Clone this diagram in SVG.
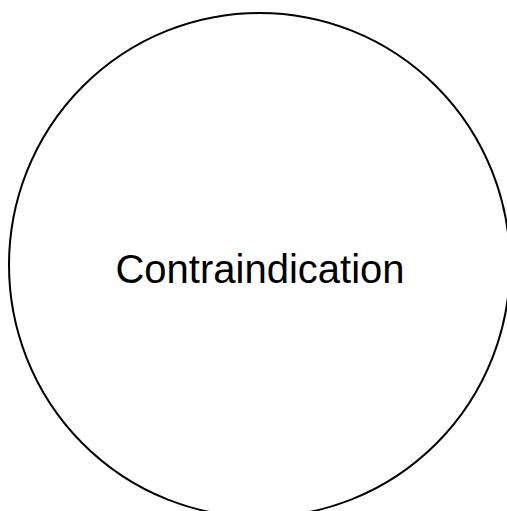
<svg xmlns="http://www.w3.org/2000/svg" width="507" height="511" viewBox="0 0 507 511">
<style>
.shape{fill:#ffffff;stroke:#000000;stroke-width:2}
.label{font-family:"Liberation Sans",Arial,sans-serif;font-size:40px;fill:#000000;text-anchor:middle}
</style>
<rect width="507" height="511" fill="#ffffff"/>
<g id="node-contraindication">
<ellipse class="shape" cx="259.5" cy="265" rx="250.5" ry="252"/>
<text class="label" x="260" y="283">Contraindication</text>
</g>
<g id="connectors"></g>
</svg>
